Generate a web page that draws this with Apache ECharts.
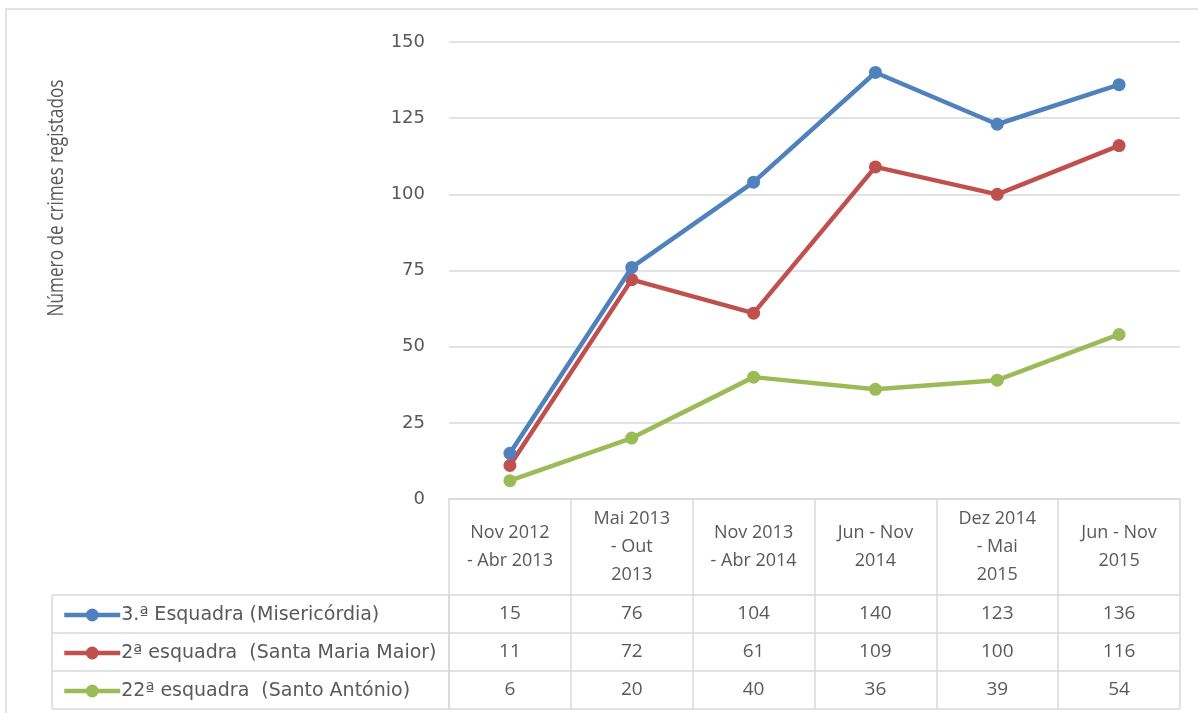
<!DOCTYPE html>
<html lang="pt">
<head>
  <meta charset="utf-8">
  <style>
    body { margin: 0; }
    #container { width: 1198px; height: 713px; }
  </style>
</head>
<body>
  <div id="container"></div>
  <script src="https://cdn.jsdelivr.net/npm/echarts@6/dist/echarts.min.js"></script>
  <script>
    // dados
    var periodos = ['Nov 2012\n- Abr 2013', 'Mai 2013\n- Out\n2013', 'Nov 2013\n- Abr 2014',
      'Jun - Nov\n2014', 'Dez 2014\n- Mai\n2015', 'Jun - Nov\n2015'];
    var nomes = ['3.ª Esquadra (Misericórdia)', '2ª esquadra  (Santa Maria Maior)', '22ª esquadra  (Santo António)'];
    var misericordia = [15, 76, 104, 140, 123, 136];
    var santaMaria = [11, 72, 61, 109, 100, 116];
    var santoAntonio = [6, 20, 40, 36, 39, 54];
    var cores = ['#4F81BD', '#C0504D', '#9BBB59'];

    var linhas = [misericordia, santaMaria, santoAntonio];
    var corTexto = '#595959';
    var corGrelha = '#d9d9d9';
    var fonteTabela = 'Open Sans';
    var fonteEixo = 'DejaVu Sans';

    var chart = echarts.init(document.getElementById('container'), null, { renderer: 'canvas' });

    var series = linhas.map(function (d, i) {
      return {
        name: nomes[i],
        type: 'line',
        data: d,
        symbol: 'circle',
        symbolSize: 13,
        lineStyle: { width: 4.5, color: cores[i] },
        itemStyle: { color: cores[i] },
        z: 10 - i
      };
    });

    chart.setOption({
      animation: false,
      backgroundColor: '#fff',
      grid: { left: 449, right: 18, top: 42, bottom: 214 },
      legend: {
        orient: 'vertical',
        left: 57,
        top: 600,
        itemGap: 18,
        itemWidth: 56,
        itemHeight: 16,
        lineStyle: { width: 4.5 },
        textStyle: { fontFamily: fonteEixo, fontSize: 19, lineHeight: 20, color: corTexto, padding: [0, 0, 0, -4] },
        data: nomes
      },
      xAxis: {
        type: 'category',
        data: periodos,
        boundaryGap: true,
        axisLine: { lineStyle: { color: corGrelha, width: 1.5 } },
        axisTick: { show: true, length: 210, lineStyle: { color: corGrelha, width: 1.5 } },
        axisLabel: {
          margin: 48,
          verticalAlign: 'middle',
          lineHeight: 28,
          fontFamily: fonteTabela,
          fontSize: 18,
          color: corTexto,
          interval: 0
        }
      },
      yAxis: {
        type: 'value',
        min: 0,
        max: 150,
        interval: 25,
        axisLine: { show: false },
        axisTick: { show: false },
        axisLabel: { margin: 24, fontFamily: fonteEixo, fontSize: 18, color: corTexto },
        splitLine: { lineStyle: { color: corGrelha, width: 1.5 } }
      },
      series: series
    });

    // tabela de dados por baixo do eixo
    var graficos = [];
    graficos.push({
      type: 'rect',
      shape: { x: 6, y: 9, width: 1200, height: 720 },
      style: { fill: 'none', stroke: corGrelha, lineWidth: 1.5 },
      silent: true
    });
    var linhasY = [595, 633, 671, 709];
    linhasY.forEach(function (y) {
      graficos.push({
        type: 'line',
        shape: { x1: 52, y1: y, x2: 1180, y2: y },
        style: { stroke: corGrelha, lineWidth: 1.5 }
      });
    });
    graficos.push({
      type: 'line',
      shape: { x1: 52, y1: 595, x2: 52, y2: 709 },
      style: { stroke: corGrelha, lineWidth: 1.5 }
    });
    graficos.push({
      type: 'line',
      shape: { x1: 449, y1: 595, x2: 449, y2: 709 },
      style: { stroke: corGrelha, lineWidth: 1.5 }
    });
    linhas.forEach(function (d, r) {
      d.forEach(function (v, c) {
        var px = chart.convertToPixel({ xAxisIndex: 0 }, c);
        graficos.push({
          type: 'text',
          x: px,
          y: (linhasY[r] + linhasY[r + 1]) / 2,
          style: {
            text: String(v),
            align: 'center',
            verticalAlign: 'middle',
            font: '19px ' + fonteTabela,
            fill: corTexto
          }
        });
      });
    });
    graficos.push({
      type: 'text',
      x: 57,
      y: 198,
      rotation: Math.PI / 2,
      scaleX: 0.82,
      style: {
        text: 'Número de crimes registados',
        align: 'center',
        verticalAlign: 'middle',
        font: '21px ' + fonteTabela,
        fill: corTexto
      }
    });
    chart.setOption({ graphic: graficos });
  </script>
</body>
</html>
